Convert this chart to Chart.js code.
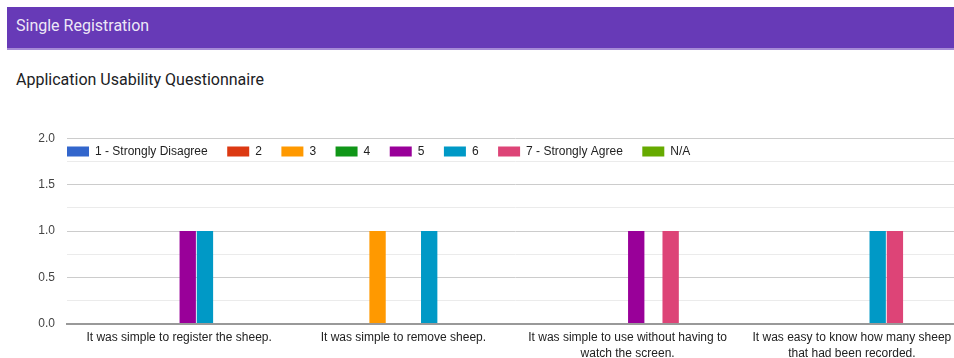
<!DOCTYPE html>
<html>
<head>
<meta charset="utf-8">
<title>Single Registration</title>
<script src="https://cdn.jsdelivr.net/npm/chart.js@4"></script>
<style>
  html, body { margin: 0; padding: 0; background: #fff; overflow: hidden; width: 954px; height: 358px; }
  .header {
    position: absolute; left: 7px; top: 7px; right: 0; height: 41px;
    background: #673ab7; border-bottom: 2px solid #a68ad6;
    color: rgba(255,255,255,0.9); font: 16px Roboto, sans-serif;
    line-height: 38px; padding-left: 9px; box-sizing: content-box;
  }
  .title {
    position: absolute; left: 16px; top: 70px;
    font: 16px Roboto, sans-serif; color: #202124;
  }
  .chart-wrap { position: absolute; left: 0; top: 97px; width: 964px; height: 271px; }
</style>
</head>
<body>
<div class="header">Single Registration</div>
<div class="title">Application Usability Questionnaire</div>
<div class="chart-wrap"><canvas id="usability"></canvas></div>

<script>
// questions (x categories)
const questions = [
    'It was simple to register the sheep.',
    'It was simple to remove sheep.',
    ['It was simple to use without having to', 'watch the screen.'],
    ['It was easy to know how many sheep', 'that had been recorded.']
];

// answer scale
const answers = ['1 - Strongly Disagree', '2', '3', '4', '5', '6', '7 - Strongly Agree', 'N/A'];
const answerColors = ['#3366cc', '#dc3912', '#ff9900', '#109618', '#990099', '#0099c6', '#dd4477', '#66aa00'];

// responses per answer, one value per question
const strongDisagree = [0, 0, 0, 0];
const answer2 = [0, 0, 0, 0];
const answer3 = [0, 1, 0, 0];
const answer4 = [0, 0, 0, 0];
const answer5 = [1, 0, 1, 0];
const answer6 = [1, 1, 0, 1];
const strongAgree = [0, 0, 1, 1];
const notApplicable = [0, 0, 0, 0];

const yTicks = [0, 0.5, 1.0, 1.5, 2.0];

const series = [strongDisagree, answer2, answer3, answer4, answer5, answer6, strongAgree, notApplicable];

// pull the legend down inside the plot area, under the top gridline
const legendInside = {
    id: 'legendInside',
    afterLayout(chart) {
        const lg = chart.legend;
        const pad = lg.options.labels.padding;
        lg.left = chart.chartArea.left - pad;
        lg.right = chart.chartArea.right;
        lg.top = chart.chartArea.top + 7 - pad;
        lg.bottom = lg.top + lg.height;
    }
};

function setupChart() {
    const ctx = document.getElementById('usability').getContext('2d');
    new Chart(ctx, {
        type: 'bar',
        data: {
            labels: questions,
            datasets: answers.map((name, i) => ({
                label: name,
                data: series[i],
                backgroundColor: answerColors[i],
                borderWidth: 0,
                categoryPercentage: 0.614,
                barPercentage: 0.95
            }))
        },
        options: {
            responsive: true,
            maintainAspectRatio: false,
            animation: false,
            layout: { padding: { left: 0, right: 0, top: 0, bottom: 0 } },
            plugins: {
                tooltip: { enabled: false },
                title: { display: false },
                legend: {
                    position: 'top',
                    align: 'start',
                    labels: {
                        boxWidth: 22,
                        boxHeight: 10,
                        padding: 19.5,
                        color: '#222',
                        font: { family: 'Liberation Sans, Arial', size: 12 }
                    }
                }
            },
            scales: {
                x: {
                    grid: { display: false, drawTicks: false },
                    border: { color: '#999', width: 2 },
                    ticks: {
                        color: '#222',
                        padding: 6,
                        maxRotation: 0,
                        autoSkip: false,
                        font: { family: 'Liberation Sans, Arial', size: 12, lineHeight: 1.35 }
                    }
                },
                y: {
                    min: 0,
                    max: 2,
                    afterFit(scale) { scale.width = 67; },
                    border: { display: false },
                    grid: {
                        drawTicks: false,
                        color: c => (yTicks.includes(c.tick.value) ? '#cccccc' : '#ebebeb')
                    },
                    ticks: {
                        stepSize: 0.25,
                        padding: 12,
                        color: '#444',
                        font: { family: 'Liberation Sans, Arial', size: 12 },
                        callback: v => (yTicks.includes(v) ? v.toFixed(1) : '')
                    }
                }
            }
        },
        plugins: [legendInside]
    });
}

window.onload = setupChart;
</script>
</body>
</html>
